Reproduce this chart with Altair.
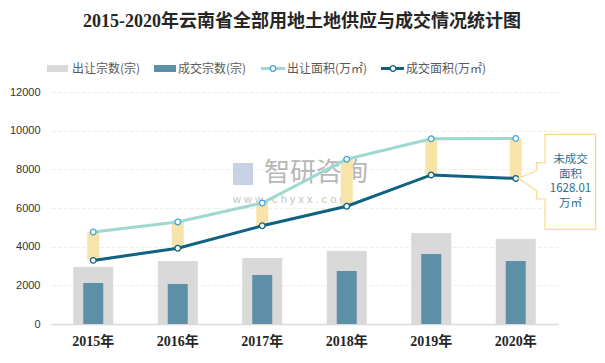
import altair as alt
import pandas as pd

years = ["2015年", "2016年", "2017年", "2018年", "2019年", "2020年"]
supply_count = [2950, 3260, 3410, 3780, 4710, 4400]   # 出让宗数(宗)
deal_count = [2120, 2070, 2530, 2740, 3620, 3260]     # 成交宗数(宗)
supply_area = [4760, 5280, 6260, 8520, 9580, 9600]    # 出让面积(万㎡)
deal_area = [3290, 3920, 5080, 6090, 7710, 7530]      # 成交面积(万㎡)
y_ticks = [0, 2000, 4000, 6000, 8000, 10000, 12000]

title_text = "2015-2020年云南省全部用地土地供应与成交情况统计图"
legend_labels = ["出让宗数(宗)", "成交宗数(宗)", "出让面积(万㎡)", "成交面积(万㎡)"]
callout_lines = ["未成交", "面积", "1628.01", "万㎡"]

df = pd.DataFrame({
    "year": years,
    "supply_count": supply_count,
    "deal_count": deal_count,
    "supply_area": supply_area,
    "deal_area": deal_area,
})

SANS = "Noto Sans CJK SC"
SERIF = "Liberation Serif, Noto Sans CJK SC"
GREY = "#D9D9D9"
BLUE_BAR = "#5D8FA6"
LIGHT_LINE = "#9FD8D1"
DARK_LINE = "#0F6282"
GAP = "#F8E3A9"

W, H = 507, 232

xaxis = alt.Axis(title=None, labelAngle=0, labelFont=SERIF, labelFontSize=14,
                 labelFontWeight="bold", labelColor="#262626", labelPadding=10,
                 ticks=False, domainColor="#D9D9D9", domainWidth=1.5, grid=False)
yaxis = alt.Axis(title=None, values=y_ticks, format="d", labelFont="Liberation Sans", labelFontSize=11,
                 labelColor="#333333", labelPadding=11, ticks=False, domain=False,
                 gridColor="#EDEDED", gridDash=[4, 2], gridWidth=1)
xscale = alt.Scale(paddingInner=0, paddingOuter=0)
yscale = alt.Scale(domain=[0, 12000], nice=False)


def X():
    return alt.X("year:N", sort=years, scale=xscale, axis=xaxis)


def Y(field):
    return alt.Y(field + ":Q", scale=yscale, axis=yaxis)


base = alt.Chart(df)

grey_bars = base.mark_bar(size=40, color=GREY).encode(x=X(), y=Y("supply_count"))
blue_bars = base.mark_bar(size=20, color=BLUE_BAR).encode(x=X(), y=Y("deal_count"))
gap_bars = base.mark_bar(size=12, color=GAP).encode(x=X(), y=Y("supply_area"), y2="deal_area:Q")
line_up = base.mark_line(color=LIGHT_LINE, strokeWidth=3).encode(x=X(), y=Y("supply_area"))
line_dn = base.mark_line(color=DARK_LINE, strokeWidth=3).encode(x=X(), y=Y("deal_area"))
pts_up = base.mark_point(filled=True, fill="white", stroke="#3EA4D8", strokeWidth=1.3,
                         size=32, opacity=1).encode(x=X(), y=Y("supply_area"))
pts_dn = base.mark_point(filled=True, fill="white", stroke=DARK_LINE, strokeWidth=1.3,
                         size=32, opacity=1).encode(x=X(), y=Y("deal_area"))

one = pd.DataFrame({"k": [0]})

layers = [grey_bars, blue_bars]

# watermark
layers.append(alt.Chart(one).mark_text(text="智研咨询", font=SANS, fontSize=26, color="#A6A6A6",
                                       align="left", baseline="middle", opacity=0.8)
              .encode(x=alt.value(213), y=alt.value(81)))
layers.append(alt.Chart(one).mark_text(text="w w w . c h y x x . c o m", font="Liberation Sans",
                                       fontSize=11, color="#B5B5B5", align="left",
                                       baseline="middle", opacity=0.8)
              .encode(x=alt.value(182), y=alt.value(108)))
layers.append(alt.Chart(one).mark_rect(color="#AFC0D8", opacity=0.7)
              .encode(x=alt.value(182), x2=alt.value(202), y=alt.value(71), y2=alt.value(93)))

layers += [gap_bars, line_up, line_dn, pts_up, pts_dn]

# title
layers.append(alt.Chart(one).mark_text(text=title_text, font=SERIF, fontSize=18, fontWeight="bold",
                                       color="#262626", align="center", baseline="middle")
              .encode(x=alt.value(251), y=alt.value(-70)))

# legend
LY = -23.5
layers.append(alt.Chart(one).mark_rect(color=GREY)
              .encode(x=alt.value(-4), x2=alt.value(17), y=alt.value(LY - 3.5), y2=alt.value(LY + 3.5)))
layers.append(alt.Chart(one).mark_rect(color=BLUE_BAR)
              .encode(x=alt.value(103), x2=alt.value(125), y=alt.value(LY - 3.5), y2=alt.value(LY + 3.5)))
layers.append(alt.Chart(one).mark_rule(color=LIGHT_LINE, strokeWidth=3)
              .encode(x=alt.value(210), x2=alt.value(234), y=alt.value(LY)))
layers.append(alt.Chart(one).mark_point(filled=True, fill="white", stroke="#3EA4D8", strokeWidth=1.3,
                                        size=32, opacity=1)
              .encode(x=alt.value(222), y=alt.value(LY)))
layers.append(alt.Chart(one).mark_rule(color=DARK_LINE, strokeWidth=3)
              .encode(x=alt.value(330), x2=alt.value(353), y=alt.value(LY)))
layers.append(alt.Chart(one).mark_point(filled=True, fill="white", stroke=DARK_LINE, strokeWidth=1.3,
                                        size=32, opacity=1)
              .encode(x=alt.value(342), y=alt.value(LY)))
for lx, lab in zip([21, 127, 236, 355], legend_labels):
    layers.append(alt.Chart(one).mark_text(text=lab, font=SANS, fontSize=12, color="#595959",
                                           align="left", baseline="middle")
                  .encode(x=alt.value(lx), y=alt.value(LY)))

# callout
callout_path = ("M 494 42.3 L 494 70.7 L 485.7 70.7 L 485.7 78.7 L 467.3 86.3 L 485.7 98.7 "
                "L 485.7 107 L 494 107 L 494 137.3 L 544.7 137.3 L 544.7 42.3 Z")
layers.append(alt.Chart(one).mark_point(shape=callout_path, size=4, filled=True, fill="white",
                                        stroke="#FAD98E", strokeWidth=1.2, opacity=1)
              .encode(x=alt.value(0), y=alt.value(0)))
for i, line in enumerate(callout_lines):
    layers.append(alt.Chart(one).mark_text(text=line, font=SANS, fontSize=11.5, color="#2A6F93",
                                           align="center", baseline="middle")
                  .encode(x=alt.value(519.5), y=alt.value(68 + 14.7 * i)))

chart = alt.layer(*layers).properties(
    width=W, height=H,
    autosize=alt.AutoSizeParams(type="none"),
    padding={"left": 43, "top": 84, "right": 39, "bottom": 31},
    background="white",
).configure_view(stroke=None)

chart.save("out.html", embed_options={"renderer": "svg", "actions": False})
